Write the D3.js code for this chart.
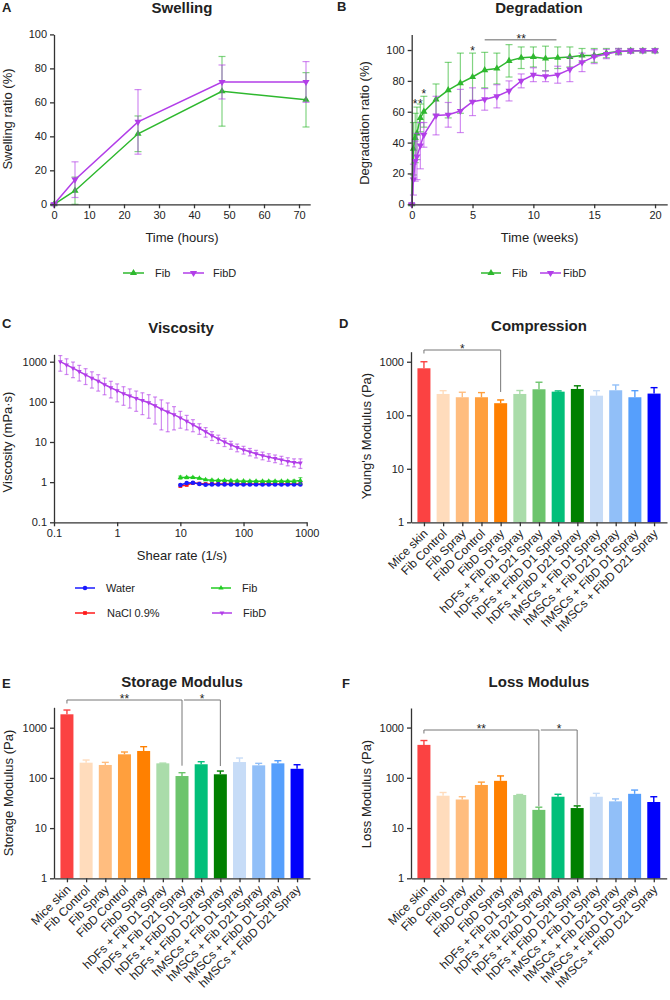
<!DOCTYPE html>
<html>
<head>
<meta charset="utf-8">
<script src="https://cdn.jsdelivr.net/npm/d3@7"></script>
<style>
body { margin: 0; background: #fff; }
text { font-family: Arial, "Liberation Sans", sans-serif; fill: #222; }
</style>
</head>
<body>
<div id="fig"></div>
<script>
// ---------- data ----------
let swellTime = [0, 6, 24, 48, 72];
let swellFib = [0, 8, 41.5, 66.5, 61.5];
let swellFibErr = [0.5, 8, 10.5, 20.5, 16];
let swellFibD = [0, 14.5, 48.5, 72, 72];
let swellFibDErr = [0.5, 10.5, 19, 10, 12];

let degTime = [0, 0.14, 0.29, 0.43, 0.71, 1, 2, 3, 4, 5, 6, 7, 8, 9, 10, 11, 12, 13, 14, 15, 16, 17, 18, 19, 20];
let degFib = [0, 36, 43, 46, 56, 60, 68, 74, 78.5, 82.5, 87, 88, 93, 95, 95.5, 94.5, 95, 95.5, 96.5, 96.5, 98, 99, 99.5, 99.5, 99.5];
let degFibErr = [0.5, 17, 16, 17, 9, 10, 10, 18, 19.5, 15.5, 11.5, 10, 10.5, 7, 6.5, 8, 7, 6.5, 4.5, 4.5, 3, 2, 1.5, 1.5, 1.5];
let degFibD = [0, 16, 28, 31, 38, 45, 57.5, 58, 60.5, 66.5, 68, 70, 73.5, 80, 84, 83, 84, 87.5, 92, 95.7, 97.4, 99, 99.4, 99.6, 99.6];
let degFibDErr = [0.5, 10, 13, 15, 15, 8, 12.5, 8, 14, 9, 7, 7.5, 6.5, 4.5, 4.5, 3.5, 5.5, 8, 6, 4.5, 3, 2, 1.5, 1.2, 1.2];

let shearRate = [0.126, 0.158, 0.2, 0.251, 0.316, 0.398, 0.501, 0.631, 0.794, 1, 1.26, 1.58, 2, 2.51, 3.16, 3.98, 5.01, 6.31, 7.94,
                 10, 12.6, 15.8, 20, 25.1, 31.6, 39.8, 50.1, 63.1, 79.4, 100, 126, 158, 200, 251, 316, 398, 501, 631, 794];
let viscFibD = [1000, 830, 690, 570, 470, 390, 330, 270, 225, 190, 160, 140, 122, 108, 95, 80, 66, 56, 48,
                40, 33, 27, 22, 18, 14.5, 12, 10, 8.5, 7.3, 6.4, 5.7, 5.1, 4.6, 4.2, 3.9, 3.6, 3.3, 3.1, 3.0];
let viscFibDErr = [420, 350, 290, 240, 200, 170, 145, 120, 100, 90, 78, 70, 64, 60, 56, 52, 46, 38, 28,
                   18, 13, 9, 6.5, 4.8, 3.6, 2.8, 2.3, 1.9, 1.6, 1.4, 1.2, 1.1, 1, 0.9, 0.85, 0.8, 0.75, 0.7, 0.8];
// Water, NaCl and Fib were measured from 10 1/s upwards
let shearRateLow = [10, 12.6, 15.8, 20, 25.1, 31.6, 39.8, 50.1, 63.1, 79.4, 100, 126, 158, 200, 251, 316, 398, 501, 631, 794];
let viscWater = [0.85, 0.95, 0.97, 0.9, 0.86, 0.88, 0.88, 0.88, 0.88, 0.88, 0.88, 0.88, 0.88, 0.88, 0.88, 0.88, 0.88, 0.88, 0.88, 0.88];
let viscNaCl = [0.8, 0.85, 0.95, 0.92, 0.9, 0.9, 0.9, 0.9, 0.9, 0.9, 0.9, 0.9, 0.9, 0.9, 0.9, 0.9, 0.9, 0.9, 0.9, 0.9];
let viscFib = [1.3, 1.3, 1.3, 1.25, 1.15, 1.12, 1.1, 1.1, 1.08, 1.07, 1.06, 1.05, 1.05, 1.05, 1.05, 1.05, 1.05, 1.05, 1.05, 1.1];
let viscFibErr = [0.12, 0.08, 0.06, 0.05, 0.05, 0.05, 0.05, 0.05, 0.05, 0.05, 0.05, 0.05, 0.05, 0.05, 0.05, 0.05, 0.05, 0.06, 0.08, 0.2];

let groups = ["Mice skin", "Fib Control", "Fib Spray", "FibD Control", "FibD Spray",
              "hDFs + Fib D1 Spray", "hDFs + Fib D21 Spray", "hDFs + FibD D1 Spray", "hDFs + FibD D21 Spray",
              "hMSCs + Fib D1 Spray", "hMSCs + Fib D21 Spray", "hMSCs + FibD D1 Spray", "hMSCs + FibD D21 Spray"];
let barColors = ["#fb4242", "#ffdcbc", "#ffbd7f", "#ff9f3d", "#ff8000", "#aadcaa", "#6cc46c", "#02bf7a",
                 "#008000", "#c7dcf7", "#91bff8", "#569ffc", "#0000fb"];

let compMean = [755, 250, 217, 217, 168, 250, 306, 276, 310, 232, 293, 217, 254];
let compErr = [245, 38, 52, 48, 25, 40, 108, 9, 45, 56, 75, 71, 74];
let storMean = [1850, 201, 181, 295, 344, 195, 109, 187, 118, 207, 178, 195, 152];
let storErr = [400, 26, 23, 33, 75, 2, 18, 23, 19, 42, 17, 25, 31];
let lossMean = [452, 44, 37, 72, 87, 45.5, 23, 42, 25, 42, 34, 48, 33];
let lossErr = [100, 7, 5, 10, 22, 1, 3, 5, 2.6, 7, 4, 9, 9];

let purple = "#b23ee8";
let green = "#2eb82e";

// ---------- helpers ----------
let svg = d3.select("#fig").append("svg")
	.attr("width", 670)
	.attr("height", 1000)
	.style("background-color", "white");

function styleAxis(g) {
	g.select(".domain").attr("stroke", "#333").attr("stroke-width", 1.3);
	g.selectAll(".tick line").attr("stroke", "#333").attr("stroke-width", 1.3);
	g.selectAll(".tick text").attr("fill", "#222").style("font-size", "11px");
}

function title(txt, x, y) {
	svg.append("text").attr("x", x).attr("y", y).attr("text-anchor", "middle")
		.style("font-size", "15px").style("font-weight", "bold").text(txt);
}
function letter(txt, x, y) {
	svg.append("text").attr("x", x).attr("y", y)
		.style("font-size", "13px").style("font-weight", "bold").text(txt);
}
function xTitle(txt, x, y) {
	svg.append("text").attr("x", x).attr("y", y).attr("text-anchor", "middle")
		.style("font-size", "13px").text(txt);
}
function yTitle(txt, x, y) {
	svg.append("text").attr("transform", "translate(" + x + "," + y + ") rotate(-90)")
		.attr("text-anchor", "middle").style("font-size", "13px").text(txt);
}

// "down" = triangle pointing down (FibD)
function symPath(sym, size) {
	let t = sym === "down" ? d3.symbolTriangle : sym;
	return d3.symbol().type(t).size(size)();
}

// error bars + line + markers
function series(g, xs, ys, es, xS, yS, color, sym, symSize, capW, lowClamp) {
	let pts = xs.map(function(x, i){ return {x: x, y: ys[i], e: es ? es[i] : 0}; });
	if (es) {
		let eg = g.append("g").attr("stroke", color).attr("stroke-opacity", 0.6).attr("stroke-width", 1.2);
		pts.forEach(function(p){
			let lo = p.y - p.e;
			if (lowClamp !== undefined) lo = Math.max(lo, lowClamp);
			let hi = p.y + p.e;
			let cx = xS(p.x);
			eg.append("line").attr("x1", cx).attr("x2", cx).attr("y1", yS(lo)).attr("y2", yS(hi));
			eg.append("line").attr("x1", cx - capW / 2).attr("x2", cx + capW / 2).attr("y1", yS(lo)).attr("y2", yS(lo));
			eg.append("line").attr("x1", cx - capW / 2).attr("x2", cx + capW / 2).attr("y1", yS(hi)).attr("y2", yS(hi));
		});
	}
	g.append("path").datum(pts)
		.attr("d", d3.line().x(function(d){ return xS(d.x); }).y(function(d){ return yS(d.y); }))
		.attr("fill", "none").attr("stroke", color).attr("stroke-width", 1.5);
	g.selectAll(null).data(pts).enter().append("path")
		.attr("d", symPath(sym, symSize))
		.attr("transform", function(d){
			let rot = sym === "down" ? " rotate(180)" : "";
			return "translate(" + xS(d.x) + "," + yS(d.y) + ")" + rot;
		})
		.attr("fill", color);
}

function legendItem(x1, x2, y, color, sym, symSize, label, tx) {
	svg.append("line").attr("x1", x1).attr("x2", x2).attr("y1", y).attr("y2", y)
		.attr("stroke", color).attr("stroke-width", 1.5);
	svg.append("path").attr("d", symPath(sym, symSize))
		.attr("transform", "translate(" + ((x1 + x2) / 2) + "," + y + ")" + (sym === "down" ? " rotate(180)" : ""))
		.attr("fill", color);
	svg.append("text").attr("x", tx).attr("y", y + 4).style("font-size", "11px").text(label);
}

// ---------- A: Swelling ----------
let ax = d3.scaleLinear().domain([0, 73.2]).range([54, 310.2]);
let ay = d3.scaleLinear().domain([0, 100]).range([204.3, 34.4]);
let gA = svg.append("g");
series(gA, swellTime, swellFib, swellFibErr, ax, ay, green, d3.symbolTriangle, 22, 7);
series(gA, swellTime, swellFibD, swellFibDErr, ax, ay, purple, "down", 22, 7);
gA.append("g").attr("transform", "translate(0,204.3)")
	.call(d3.axisBottom(ax).tickValues([0, 10, 20, 30, 40, 50, 60, 70]).tickSize(4).tickSizeOuter(0)).call(styleAxis);
gA.append("g").attr("transform", "translate(54,0)")
	.call(d3.axisLeft(ay).tickValues([0, 20, 40, 60, 80, 100]).tickSize(4).tickSizeOuter(0)).call(styleAxis);
letter("A", 2, 12);
title("Swelling", 182, 13);
xTitle("Time (hours)", 182, 242);
yTitle("Swelling ratio (%)", 12, 119);
legendItem(123, 144, 273, green, d3.symbolTriangle, 22, "Fib", 155);
legendItem(183, 204, 273, purple, "down", 22, "FibD", 213);

// ---------- B: Degradation ----------
let bx = d3.scaleLinear().domain([0, 21]).range([411.7, 667.2]);
let by = d3.scaleLinear().domain([0, 110]).range([204.3, 34.6]);
let gB = svg.append("g");
series(gB, degTime, degFib, degFibErr, bx, by, green, d3.symbolTriangle, 22, 7);
series(gB, degTime, degFibD, degFibDErr, bx, by, purple, "down", 22, 7);
gB.append("g").attr("transform", "translate(0,204.3)")
	.call(d3.axisBottom(bx).tickValues([0, 5, 10, 15, 20]).tickSize(4).tickSizeOuter(0)).call(styleAxis);
gB.append("g").attr("transform", "translate(411.7,0)")
	.call(d3.axisLeft(by).tickValues([0, 20, 40, 60, 80, 100]).tickSize(4).tickSizeOuter(0)).call(styleAxis);
// significance
gB.append("line").attr("x1", bx(6)).attr("x2", bx(11.9)).attr("y1", by(106.6)).attr("y2", by(106.6))
	.attr("stroke", "#666").attr("stroke-width", 1);
let degStars = [{t: 9, v: 104.3, s: "**"}, {t: 5, v: 96.8, s: "*"}, {t: 0.27, v: 62.4, s: "*"}, {t: 0.71, v: 62.4, s: "*"}, {t: 0.99, v: 68.9, s: "*"}];
gB.selectAll(".star").data(degStars).enter().append("text")
	.attr("x", function(d){ return bx(d.t); }).attr("y", function(d){ return by(d.v); })
	.attr("text-anchor", "middle").style("font-size", "12px").text(function(d){ return d.s; });
letter("B", 337, 11);
title("Degradation", 539, 13);
xTitle("Time (weeks)", 539.5, 242);
yTitle("Degradation ratio (%)", 369, 123);
legendItem(481, 501, 273, green, d3.symbolTriangle, 22, "Fib", 512);
legendItem(540, 561, 273, purple, "down", 22, "FibD", 563);

// ---------- C: Viscosity ----------
let cx = d3.scaleLog().domain([0.1, 1000]).range([54, 306.7]);
let cy = d3.scaleLog().domain([0.1, 1528]).range([522.3, 354.3]);
let gC = svg.append("g");
series(gC, shearRateLow, viscNaCl, null, cx, cy, "#ff1a1a", d3.symbolSquare, 14, 4);
series(gC, shearRateLow, viscWater, null, cx, cy, "#1a1aff", d3.symbolCircle, 16, 4);
series(gC, shearRateLow, viscFib, viscFibErr, cx, cy, "#22cc22", d3.symbolTriangle, 12, 4);
series(gC, shearRate, viscFibD, viscFibDErr, cx, cy, purple, "down", 10, 4, 0.12);
gC.append("g").attr("transform", "translate(0,522.3)")
	.call(d3.axisBottom(cx).tickValues([0.1, 1, 10, 100, 1000]).tickFormat(d3.format("")).tickSize(4).tickSizeOuter(0)).call(styleAxis);
gC.append("g").attr("transform", "translate(54,0)")
	.call(d3.axisLeft(cy).tickValues([0.1, 1, 10, 100, 1000]).tickFormat(d3.format("")).tickSize(4).tickSizeOuter(0)).call(styleAxis);
letter("C", 2, 328);
title("Viscosity", 181, 333);
xTitle("Shear rate (1/s)", 182, 560);
yTitle("Viscosity (mPa\u00b7s)", 12, 442);
legendItem(75, 95, 588, "#1a1aff", d3.symbolCircle, 16, "Water", 106);
legendItem(211, 231, 588, "#22cc22", d3.symbolTriangle, 12, "Fib", 242);
legendItem(75, 95, 613, "#ff1a1a", d3.symbolSquare, 14, "NaCl 0.9%", 107);
legendItem(212, 232, 613, purple, "down", 10, "FibD", 243);

// ---------- bar panels ----------
function barPanel(opts) {
	let x = d3.scalePoint().domain(groups).range([opts.x0, opts.x1]).padding(0.675);
	let y = d3.scaleLog().domain([1, opts.top]).range([opts.y0, opts.y1]);
	let g = svg.append("g");
	let rows = groups.map(function(name, i){ return {name: name, v: opts.mean[i], e: opts.err[i], c: barColors[i]}; });
	let bw = 13;
	g.selectAll("rect").data(rows).enter().append("rect")
		.attr("x", function(d){ return x(d.name) - bw / 2; })
		.attr("width", bw)
		.attr("y", function(d){ return y(d.v); })
		.attr("height", function(d){ return y(1) - y(d.v); })
		.attr("fill", function(d){ return d.c; });
	let eb = g.selectAll(".eb").data(rows).enter().append("g").attr("stroke", function(d){ return d.c; }).attr("stroke-width", 1.4);
	eb.append("line")
		.attr("x1", function(d){ return x(d.name); }).attr("x2", function(d){ return x(d.name); })
		.attr("y1", function(d){ return y(d.v); }).attr("y2", function(d){ return y(d.v + d.e); });
	eb.append("line")
		.attr("x1", function(d){ return x(d.name) - 3.5; }).attr("x2", function(d){ return x(d.name) + 3.5; })
		.attr("y1", function(d){ return y(d.v + d.e); }).attr("y2", function(d){ return y(d.v + d.e); });
	let xa = g.append("g").attr("transform", "translate(0," + opts.y0 + ")")
		.call(d3.axisBottom(x).tickSize(4).tickSizeOuter(0)).call(styleAxis);
	xa.selectAll(".tick text")
		.attr("transform", "translate(1,9) rotate(-45)")
		.attr("text-anchor", "end").attr("dy", "0.35em").attr("y", 0)
		.style("font-size", "12px");
	g.append("g").attr("transform", "translate(" + opts.x0 + ",0)")
		.call(d3.axisLeft(y).tickValues([1, 10, 100, 1000]).tickFormat(d3.format("")).tickSize(4).tickSizeOuter(0)).call(styleAxis);
	// significance brackets
	opts.sig.forEach(function(s){
		let xa1 = x(groups[s.from]) + (s.shift || 0), xb = x(groups[s.to]);
		let ly = opts.sigY;
		let endY = y(opts.mean[s.to] + opts.err[s.to]) - s.gap;
		let path = d3.path();
		path.moveTo(xa1, s.leftDrop ? ly + 3.5 : ly);
		path.lineTo(xa1, ly);
		path.lineTo(xb, ly);
		path.lineTo(xb, endY);
		g.append("path").attr("d", path.toString()).attr("fill", "none").attr("stroke", "#777").attr("stroke-width", 1);
		g.append("text").attr("x", (xa1 + xb) / 2).attr("y", ly + 3).attr("text-anchor", "middle")
			.style("font-size", "12px").text(s.label);
	});
	letter(opts.letter, opts.lx, opts.ly);
	title(opts.title, opts.tx, opts.ty);
	yTitle(opts.ytitle, opts.ytx, opts.yty);
}

barPanel({x0: 411, x1: 667, y0: 522.3, y1: 351.7, top: 1540, mean: compMean, err: compErr,
	sig: [{from: 0, to: 4, label: "*", gap: 8, leftDrop: true}], sigY: 350,
	letter: "D", lx: 339, ly: 328, title: "Compression", tx: 539, ty: 331,
	ytitle: "Young's Modulus (Pa)", ytx: 370.5, yty: 436});

barPanel({x0: 54, x1: 310, y0: 878.3, y1: 707.3, top: 2550, mean: storMean, err: storErr,
	sig: [{from: 0, to: 6, label: "**", gap: 7, leftDrop: true}, {from: 6, to: 8, label: "*", gap: 5, shift: 2}], sigY: 700,
	letter: "E", lx: 2, ly: 688, title: "Storage Modulus", tx: 182, ty: 687,
	ytitle: "Storage Modulus (Pa)", ytx: 12.5, yty: 793});

barPanel({x0: 411, x1: 666.7, y0: 878.3, y1: 708, top: 2450, mean: lossMean, err: lossErr,
	sig: [{from: 0, to: 6, label: "**", gap: 1, leftDrop: true}, {from: 6, to: 8, label: "*", gap: 1, shift: 2}], sigY: 730,
	letter: "F", lx: 342, ly: 688, title: "Loss Modulus", tx: 539, ty: 687,
	ytitle: "Loss Modulus (Pa)", ytx: 370.5, yty: 794});
</script>
</body>
</html>
